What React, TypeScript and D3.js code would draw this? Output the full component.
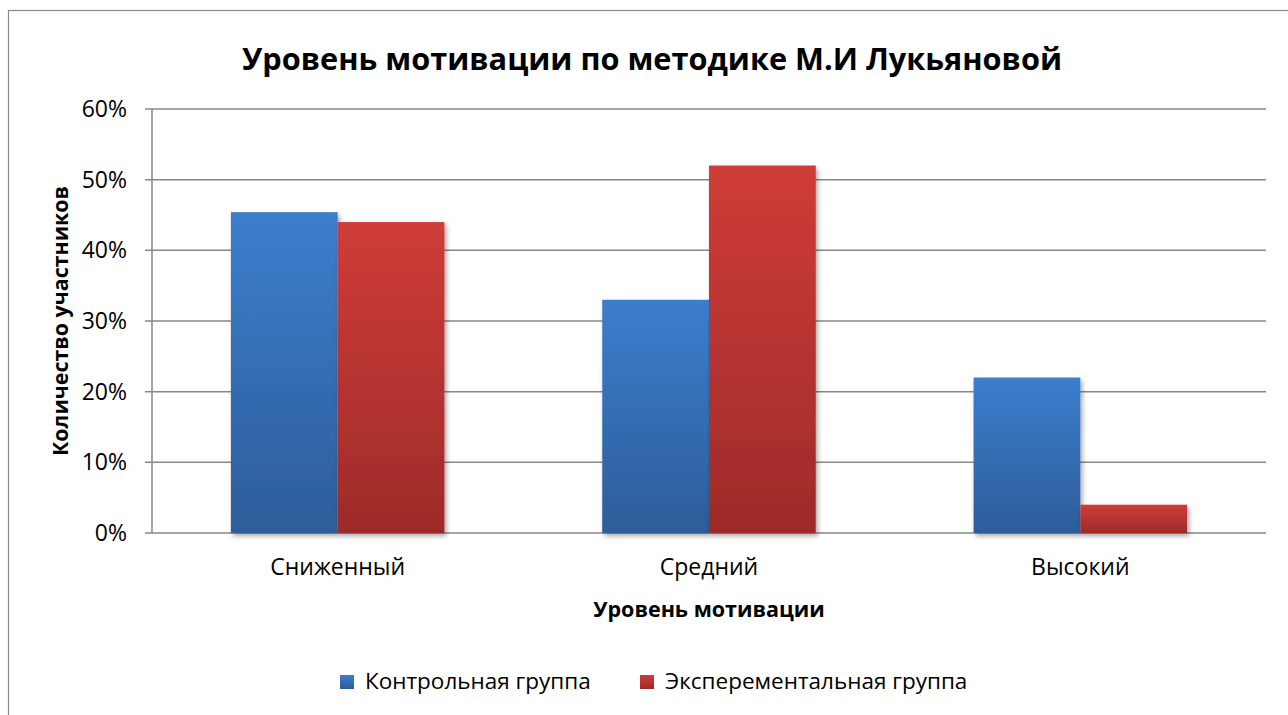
import * as d3 from 'd3'
import React from 'react'

const categories = ['Сниженный', 'Средний', 'Высокий']
const seriesNames = ['Контрольная группа', 'Эксперементальная группа']
const control = [0.454, 0.33, 0.22]
const experimental = [0.44, 0.52, 0.04]
const yTicks = [0, 0.1, 0.2, 0.3, 0.4, 0.5, 0.6]

const W = 1288
const H = 715
const left = 152
const right = 1266
const top = 109
const bottom = 533
const font = "'Open Sans', 'Noto Sans', sans-serif"

const gradients = [
  { id: 'gBlue', top: '#3b7ecd', bottom: '#2d5d9a' },
  { id: 'gRed', top: '#cf3c38', bottom: '#9d2b2a' }
]

export default function App() {
  const x0 = d3.scaleBand().domain(categories).range([left, right]).paddingInner(0.425).paddingOuter(0.2125)
  const x1 = d3.scaleBand().domain(seriesNames).range([0, x0.bandwidth()])
  const y = d3.scaleLinear().domain([0, 0.6]).range([bottom, top])
  const fmt = d3.format('.0%')
  const values = [control, experimental]

  return (
    <svg width={W} height={H} style={{ position: 'absolute', left: 0, top: 0, background: '#fff' }}>
      <defs>
        {gradients.map(g => (
          <linearGradient key={g.id} id={g.id} x1="0" y1="0" x2="0" y2="1">
            <stop offset="0" stopColor={g.top} />
            <stop offset="1" stopColor={g.bottom} />
          </linearGradient>
        ))}
        <filter id="shadow" x="-20%" y="-20%" width="140%" height="140%">
          <feDropShadow dx="2" dy="3" stdDeviation="2.5" floodColor="#000" floodOpacity="0.35" />
        </filter>
      </defs>
      <rect x={8.5} y={10.5} width={1300} height={720} fill="#fff" stroke="#8a8a8a" strokeWidth={1.2} />

      <text x={652} y={70} textAnchor="middle" fontFamily={font} fontWeight="bold" fontSize={30.7} fill="#000">
        Уровень мотивации по методике М.И Лукьяновой
      </text>

      {yTicks.map(t => (
        <g key={t}>
          <line x1={left - 7} x2={right} y1={y(t)} y2={y(t)} stroke="#878787" strokeWidth={1.5} />
          <text x={127} y={y(t) + 8} textAnchor="end" fontFamily={font} fontSize={23} fill="#000">
            {fmt(t)}
          </text>
        </g>
      ))}
      <line x1={left} x2={left} y1={top} y2={bottom} stroke="#878787" strokeWidth={1.5} />

      {categories.map((c, i) => (
        <g key={c}>
          {seriesNames.map((s, j) => (
            <rect
              key={s}
              x={(x0(c) as number) + (x1(s) as number)}
              y={y(values[j][i])}
              width={x1.bandwidth()}
              height={bottom - y(values[j][i])}
              fill={`url(#${gradients[j].id})`}
              filter="url(#shadow)"
            />
          ))}
          <text x={(x0(c) as number) + x0.bandwidth() / 2} y={575} textAnchor="middle" fontFamily={font} fontSize={23} fill="#000">
            {c}
          </text>
        </g>
      ))}

      <text x={(left + right) / 2} y={617} textAnchor="middle" fontFamily={font} fontWeight="bold" fontSize={21.5} fill="#000">
        Уровень мотивации
      </text>
      <text
        transform={`translate(68,${(top + bottom) / 2}) rotate(-90)`}
        textAnchor="middle"
        fontFamily={font}
        fontWeight="bold"
        fontSize={21.4}
        fill="#000"
      >
        Количество участников
      </text>

      {seriesNames.map((s, j) => {
        const lx = j === 0 ? 340 : 640
        return (
          <g key={s}>
            <rect x={lx} y={675} width={14} height={14} fill={`url(#${gradients[j].id})`} />
            <text x={lx + 25} y={689} fontFamily={font} fontSize={22.5} fill="#000">
              {s}
            </text>
          </g>
        )
      })}
    </svg>
  )
}
